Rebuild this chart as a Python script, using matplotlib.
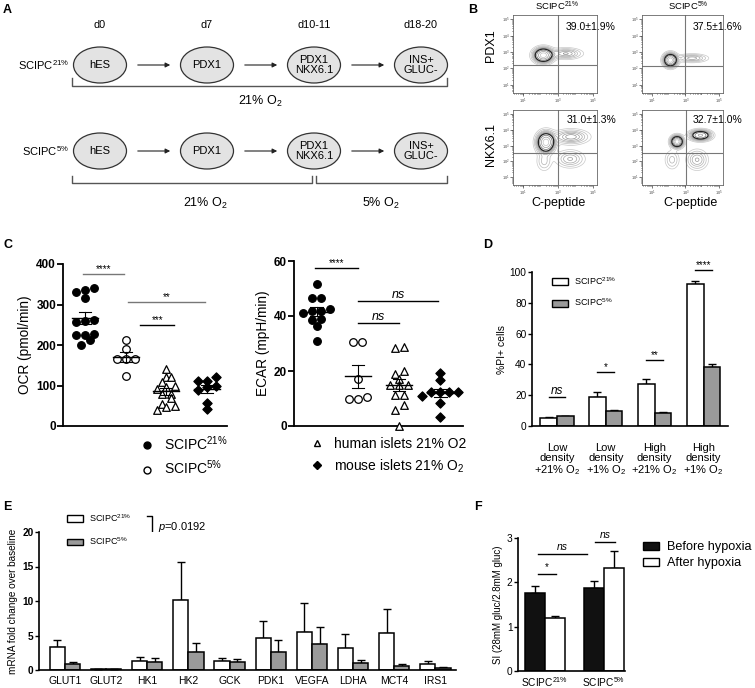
import matplotlib
matplotlib.use('Agg')
import matplotlib.pyplot as plt
import numpy as np
from matplotlib.patches import Ellipse, Patch
from matplotlib.lines import Line2D

plt.rcParams['font.family'] = ['Liberation Sans', 'DejaVu Sans']
plt.rcParams['mathtext.fontset'] = 'custom'
plt.rcParams['mathtext.rm'] = 'Liberation Sans'
plt.rcParams['mathtext.it'] = 'Liberation Sans:italic'
plt.rcParams['mathtext.bf'] = 'Liberation Sans:bold'

W, H = 755, 688

# ---------------- datos ----------------
# A - esquema de diferenciacion
etapas = ['hES', 'PDX1', 'PDX1\nNKX6.1', 'INS+\nGLUC-']
dias = ['d0', 'd7', 'd10-11', 'd18-20']

# B - citometria (porcentajes y manchas de densidad en log10: cx, cy, sx, sy, amp)
porc_b = ['39.0±1.9%', '37.5±1.6%', '31.0±1.3%', '32.7±1.0%']
manchas_b = [
    [(2.15, 2.8, 0.3, 0.24, 1.0), (3.45, 2.9, 0.5, 0.18, 0.25)],
    [(2.1, 2.5, 0.22, 0.22, 1.0), (3.4, 2.62, 0.5, 0.14, 0.22)],
    [(2.3, 3.2, 0.28, 0.35, 1.0), (3.75, 3.55, 0.55, 0.25, 0.28),
     (3.7, 2.15, 0.45, 0.3, 0.2), (2.2, 2.0, 0.25, 0.35, 0.12)],
    [(2.5, 3.25, 0.2, 0.2, 1.0), (3.9, 3.65, 0.35, 0.18, 0.7),
     (3.7, 2.1, 0.35, 0.35, 0.2), (2.2, 2.1, 0.25, 0.35, 0.12)],
]
cuadrante_b = [(3.0, 2.2), (3.0, 2.15), (3.0, 2.5), (3.05, 2.5)]

# C - OCR y ECAR
ocr_21 = [340, 335, 330, 315, 260, 258, 262, 225, 225, 228, 212, 200]
ocr_5 = [212, 190, 165, 165, 166, 123]
ocr_hum = [140, 122, 120, 108, 100, 97, 92, 80, 78, 68, 55, 50, 46, 40]
ocr_mou = [120, 112, 110, 100, 96, 90, 58, 42]
ecar_21 = [51.5, 46.5, 46.5, 42, 42, 42.5, 41, 38.5, 39, 36.5, 30.8]
ecar_5 = [30.7, 30.7, 17.2, 10.5, 9.7, 9.7]
ecar_hum = [28.9, 28.4, 20, 19, 17, 14.8, 14.8, 14.8, 11.2, 11.2, 7.5, 6, 0]
ecar_mou = [19.2, 16.8, 12.5, 12.5, 12.5, 12.5, 11, 8.3, 3.2]

# D - %PI+
cond_d = ['Low\ndensity\n+21% O$_2$', 'Low\ndensity\n+1% O$_2$',
          'High\ndensity\n+21% O$_2$', 'High\ndensity\n+1% O$_2$']
pi_21 = [5.2, 18.8, 27.5, 92.3]
pi_21_err = [0.4, 3.2, 3.2, 2.1]
pi_5 = [6.2, 10.0, 8.7, 38.0]
pi_5_err = [0.6, 0.5, 0.3, 2.3]
sig_d = ['ns', '*', '**', '****']
sig_d_y = [18.6, 35, 43, 101]

# E - mRNA
genes = ['GLUT1', 'GLUT2', 'HK1', 'HK2', 'GCK', 'PDK1', 'VEGFA', 'LDHA', 'MCT4', 'IRS1']
mrna_21 = [3.35, 0.1, 1.35, 10.1, 1.3, 4.6, 5.5, 3.15, 5.3, 0.8]
mrna_21_err = [1.0, 0.05, 0.5, 5.5, 0.4, 2.5, 4.2, 2.0, 3.6, 0.45]
mrna_5 = [0.82, 0.1, 1.2, 2.65, 1.2, 2.55, 3.8, 0.95, 0.6, 0.35]
mrna_5_err = [0.4, 0.05, 0.5, 1.25, 0.4, 1.75, 2.45, 0.55, 0.25, 0.15]

# F - indice de estimulacion
grupos_f = ['SCIPC$^{21\\%}$', 'SCIPC$^{5\\%}$']
si_antes = [1.77, 1.88]
si_antes_err = [0.14, 0.16]
si_despues = [1.2, 2.32]
si_despues_err = [0.03, 0.38]

fig = plt.figure(figsize=(W / 100, H / 100), dpi=100)


def ejes(x0, y0, x1, y1):
    return fig.add_axes([x0 / W, 1 - y1 / H, (x1 - x0) / W, (y1 - y0) / H])


def txt(x, y, s, **kw):
    fig.text(x / W, 1 - y / H, s, **kw)


# ---------------- A ----------------
axA = fig.add_axes([0, 0, 1, 1])
axA.set_xlim(0, W)
axA.set_ylim(H, 0)
axA.axis('off')
cx_a = [100, 207, 314, 421]
for fila_y in [65, 151]:
    for i, et in enumerate(etapas):
        axA.add_patch(Ellipse((cx_a[i], fila_y), 53, 36, facecolor='#e3e3e3',
                              edgecolor='#333333', lw=0.9))
        axA.text(cx_a[i], fila_y, et, ha='center', va='center', fontsize=8,
                 linespacing=1.1)
        if i < 3:
            axA.annotate('', xy=(cx_a[i + 1] - 34, fila_y), xytext=(cx_a[i] + 35, fila_y),
                         arrowprops=dict(arrowstyle='-|>', color='#222222', lw=0.8,
                                         mutation_scale=7))
for i, d in enumerate(dias):
    axA.text(cx_a[i], 25, d, ha='center', va='center', fontsize=7.8)
axA.text(69, 65, 'SCIPC$^{21\\%}$', ha='right', va='center', fontsize=8)
axA.text(69, 151, 'SCIPC$^{5\\%}$', ha='right', va='center', fontsize=8)
gris_b = '#555555'
axA.plot([72, 72, 447, 447], [78, 86, 86, 78], color=gris_b, lw=1)
axA.text(260, 101, '21% O$_2$', ha='center', va='center', fontsize=9)
axA.plot([72, 72, 312, 312], [176, 183, 183, 176], color=gris_b, lw=1)
axA.plot([316, 316, 447, 447], [176, 183, 183, 176], color=gris_b, lw=1)
axA.text(205, 203, '21% O$_2$', ha='center', va='center', fontsize=9)
axA.text(381, 203, '5% O$_2$', ha='center', va='center', fontsize=9)

# ---------------- B ----------------
cajas_b = [(513, 15, 597, 93), (642, 15, 723, 93), (513, 110, 597, 185), (642, 110, 723, 185)]
gx, gy = np.meshgrid(np.linspace(0.4, 5.25, 240), np.linspace(0.5, 5.25, 240))
niveles = [0.03, 0.06, 0.1, 0.14, 0.19, 0.24, 0.3, 0.45, 0.65, 0.85]
colores = ['#c8c8c8', '#bdbdbd', '#b2b2b2', '#a6a6a6', '#9a9a9a', '#8c8c8c',
           '#222222', '#6e6e6e', '#9a9a9a', '#c0c0c0']
for k, caja in enumerate(cajas_b):
    ax = ejes(*caja)
    dens = np.zeros_like(gx)
    for (mx, my, sx, sy, amp) in manchas_b[k]:
        dens += amp * np.exp(-0.5 * (((gx - mx) / sx) ** 2 + ((gy - my) / sy) ** 2))
    ax.contour(10 ** gx, 10 ** gy, dens, levels=niveles, colors=colores,
               linewidths=[0.5] * 6 + [0.9] + [0.5] * 3)
    ax.set_xscale('log')
    ax.set_yscale('log')
    ax.set_xlim(10 ** 0.4, 10 ** 5.25)
    ax.set_ylim(10 ** 0.5, 10 ** 5.25)
    qx, qy = cuadrante_b[k]
    ax.axvline(10 ** qx, color='#777777', lw=0.8)
    ax.axhline(10 ** qy, color='#777777', lw=0.8)
    ax.set_xticks([1e1, 1e3, 1e5])
    ax.set_xticklabels(['$10^1$', '$10^3$', '$10^5$'])
    ax.set_yticks([1e1, 1e2, 1e3, 1e4, 1e5])
    ax.set_yticklabels(['$10^1$', '$10^2$', '$10^3$', '$10^4$', '$10^5$'])
    ax.tick_params(labelsize=2.8, length=2, width=0.5, pad=0.5, colors='#444444')
    ax.tick_params(which='minor', length=1, width=0.4)
    for s in ax.spines.values():
        s.set_linewidth(0.6)
        s.set_color('#666666')
txt(557, 6, 'SCIPC$^{21\\%}$', ha='center', va='center', fontsize=6.8)
txt(688, 6, 'SCIPC$^{5\\%}$', ha='center', va='center', fontsize=6.8)
txt(566, 27, porc_b[0], ha='left', va='center', fontsize=7.5)
txt(693, 27, porc_b[1], ha='left', va='center', fontsize=7.5)
txt(567, 120, porc_b[2], ha='left', va='center', fontsize=7.5)
txt(693, 120, porc_b[3], ha='left', va='center', fontsize=7.5)
txt(491, 46, 'PDX1', ha='center', va='center', rotation=90, fontsize=9)
txt(491, 144, 'NKX6.1', ha='center', va='center', rotation=90, fontsize=9)
txt(558, 203, 'C-peptide', ha='center', va='center', fontsize=9)
txt(690, 203, 'C-peptide', ha='center', va='center', fontsize=9)


# ---------------- C ----------------
def enjambre(vals, ancho, paso):
    vals = np.asarray(vals, float)
    orden = np.argsort(vals)
    off = np.zeros(len(vals))
    grupos, actual = [], [orden[0]]
    for i in orden[1:]:
        if vals[i] - vals[actual[0]] < ancho:
            actual.append(i)
        else:
            grupos.append(actual)
            actual = [i]
    grupos.append(actual)
    for g in grupos:
        n = len(g)
        off[g] = (np.arange(n) - (n - 1) / 2) * paso
    return off


estilos_c = [dict(marker='o', facecolor='black', edgecolor='black'),
             dict(marker='o', facecolor='white', edgecolor='black'),
             dict(marker='^', facecolor='white', edgecolor='black'),
             dict(marker='D', facecolor='black', edgecolor='black')]


def dot_plot(ax, series, ancho):
    for i, vals in enumerate(series):
        off = enjambre(vals, ancho, 0.22)
        est = estilos_c[i]
        s = 22 if est['marker'] == 'D' else 30
        ax.scatter(i + off, vals, s=s, linewidths=0.9, zorder=3, clip_on=False, **est)
        m = np.mean(vals)
        sem = np.std(vals, ddof=1) / np.sqrt(len(vals))
        ax.plot([i - 0.32, i + 0.32], [m, m], color='black', lw=1, zorder=4)
        ax.plot([i, i], [m - sem, m + sem], color='black', lw=0.8, zorder=4)
        ax.plot([i - 0.15, i + 0.15], [m + sem, m + sem], color='black', lw=0.8, zorder=4)
        ax.plot([i - 0.15, i + 0.15], [m - sem, m - sem], color='black', lw=0.8, zorder=4)


def estilo_ejes(ax, lw=1.3):
    for s in ['top', 'right']:
        ax.spines[s].set_visible(False)
    for s in ['left', 'bottom']:
        ax.spines[s].set_linewidth(lw)


def barra_sig(ax, x0, x1, y, etiqueta, color='black', fs=7, italic=False, dy=0):
    ax.plot([x0, x1], [y, y], color=color, lw=1, clip_on=False)
    ax.text((x0 + x1) / 2, y + dy, etiqueta, ha='center', va='bottom', fontsize=fs,
            style='italic' if italic else 'normal')


axC1 = ejes(63, 264, 227, 426)
dot_plot(axC1, [ocr_21, ocr_5, ocr_hum, ocr_mou], 14)
axC1.set_xlim(-0.55, 3.5)
axC1.set_ylim(0, 400)
axC1.set_yticks([0, 100, 200, 300, 400])
axC1.set_xticks([])
estilo_ejes(axC1)
axC1.tick_params(axis='y', labelsize=8.5, length=4, width=1.3, pad=1)
for t in axC1.get_yticklabels():
    t.set_fontweight('bold')
axC1.set_ylabel('OCR (pmol/min)', fontsize=9.8, labelpad=3)
barra_sig(axC1, -0.05, 0.95, 376, '****', color='#777777', fs=7)
barra_sig(axC1, 1.05, 2.95, 305, '**', color='#777777', fs=7)
barra_sig(axC1, 1.35, 2.2, 250, '***', fs=7)

axC2 = ejes(294, 261, 463, 426)
dot_plot(axC2, [ecar_21, ecar_5, ecar_hum, ecar_mou], 1.8)
axC2.set_xlim(-0.55, 3.55)
axC2.set_ylim(0, 60)
axC2.set_yticks([0, 20, 40, 60])
axC2.set_xticks([])
estilo_ejes(axC2)
axC2.tick_params(axis='y', labelsize=8.5, length=4, width=1.3, pad=1)
for t in axC2.get_yticklabels():
    t.set_fontweight('bold')
axC2.set_ylabel('ECAR (mpH/min)', fontsize=9.8, labelpad=3)
barra_sig(axC2, -0.05, 1.0, 57.5, '****', fs=7)
barra_sig(axC2, 1.0, 2.95, 45.5, 'ns', fs=9, italic=True)
barra_sig(axC2, 1.0, 2.0, 37.5, 'ns', fs=9, italic=True)

h_c1 = [Line2D([], [], ls='', marker='o', color='black', ms=5),
        Line2D([], [], ls='', marker='o', mfc='white', mec='black', ms=5)]
fig.legend(h_c1, ['SCIPC$^{21\\%}$', 'SCIPC$^{5\\%}$'], loc='upper left',
           bbox_to_anchor=(140 / W, 1 - 434 / H), frameon=False, fontsize=10,
           handlelength=1, handletextpad=0.7, labelspacing=0.45, borderpad=0,
           borderaxespad=0)
h_c2 = [Line2D([], [], ls='', marker='^', mfc='white', mec='black', ms=5),
        Line2D([], [], ls='', marker='D', color='black', ms=4)]
fig.legend(h_c2, ['human islets 21% O2', 'mouse islets 21% O$_2$'], loc='upper left',
           bbox_to_anchor=(310 / W, 1 - 437 / H), frameon=False, fontsize=10,
           handlelength=1, handletextpad=0.7, labelspacing=0.45, borderpad=0,
           borderaxespad=0)

# ---------------- D ----------------
gris = '#9a9a9a'
axD = ejes(532, 272, 728, 426)
xd = np.arange(len(cond_d))
bw = 0.34
axD.bar(xd - bw / 2, pi_21, bw, color='white', edgecolor='black', lw=1.1, zorder=2)
axD.bar(xd + bw / 2, pi_5, bw, color=gris, edgecolor='black', lw=1.1, zorder=2)
axD.errorbar(xd - bw / 2, pi_21, yerr=[np.zeros(4), pi_21_err], fmt='none',
             ecolor='black', elinewidth=1, capsize=3, capthick=1, zorder=1)
axD.errorbar(xd + bw / 2, pi_5, yerr=[np.zeros(4), pi_5_err], fmt='none',
             ecolor='black', elinewidth=1, capsize=3, capthick=1, zorder=1)
for i in range(4):
    it = sig_d[i] == 'ns'
    barra_sig(axD, i - bw / 2, i + bw / 2, sig_d_y[i], sig_d[i], fs=8.5 if it else 7,
              italic=it)
axD.set_xlim(-0.51, 3.5)
axD.set_ylim(0, 100)
axD.set_yticks(range(0, 101, 20))
axD.set_xticks(xd)
axD.set_xticklabels(cond_d, fontsize=8, linespacing=1.05)
estilo_ejes(axD, 1.2)
axD.tick_params(axis='x', length=0, pad=12)
axD.tick_params(axis='y', labelsize=7.3, length=3, width=1, pad=1)
axD.set_ylabel('%PI+ cells', fontsize=7.5, labelpad=2)
h_d = [Patch(facecolor='white', edgecolor='black', lw=1),
       Patch(facecolor=gris, edgecolor='black', lw=1)]
axD.legend(h_d, ['SCIPC$^{21\\%}$', 'SCIPC$^{5\\%}$'], loc='upper left',
           bbox_to_anchor=((552 - 532) / 196, 1 - (275 - 272) / 154), frameon=False,
           fontsize=6.5, handlelength=1.8, handleheight=0.8, handletextpad=0.6,
           labelspacing=1.1, borderpad=0, borderaxespad=0)

# ---------------- E ----------------
axE = ejes(39, 532, 456, 670)
xe = np.arange(len(genes))
bwe = 0.37
axE.bar(xe - bwe / 2, mrna_21, bwe, color='white', edgecolor='black', lw=1.1, zorder=2)
axE.bar(xe + bwe / 2, mrna_5, bwe, color=gris, edgecolor='black', lw=1.1, zorder=2)
axE.errorbar(xe - bwe / 2, mrna_21, yerr=[np.zeros(10), mrna_21_err], fmt='none',
             ecolor='black', elinewidth=1, capsize=3, capthick=1, zorder=1)
axE.errorbar(xe + bwe / 2, mrna_5, yerr=[np.zeros(10), mrna_5_err], fmt='none',
             ecolor='black', elinewidth=1, capsize=3, capthick=1, zorder=1)
axE.set_xlim(-0.63, 9.5)
axE.set_ylim(0, 20)
axE.set_yticks([0, 5, 10, 15, 20])
axE.set_xticks(xe)
axE.set_xticklabels(genes, fontsize=7.5)
estilo_ejes(axE, 1.2)
axE.tick_params(axis='x', length=0, pad=4)
axE.tick_params(axis='y', labelsize=7.3, length=3, width=1, pad=1)
for t in axE.get_yticklabels():
    t.set_fontweight('bold')
axE.set_ylabel('mRNA fold change over baseline', fontsize=7.2, labelpad=3)
fig.legend(h_d, ['SCIPC$^{21\\%}$', 'SCIPC$^{5\\%}$'], loc='upper left',
           bbox_to_anchor=(67 / W, 1 - 512 / H), frameon=False,
           fontsize=6.5, handlelength=1.8, handleheight=0.8, handletextpad=0.6,
           labelspacing=1.3, borderpad=0, borderaxespad=0)
axA.plot([147, 152, 152, 147], [516, 516, 543, 543], color='black', lw=1)
txt(158, 527, '$p$=0.0192', ha='left', va='center', fontsize=8)

# ---------------- F ----------------
axF = ejes(518, 538, 625, 671)
xf = np.arange(len(grupos_f))
bwf = 0.34
axF.bar(xf - bwf / 2, si_antes, bwf, color='#111111', edgecolor='black', lw=1.1, zorder=2)
axF.bar(xf + bwf / 2, si_despues, bwf, color='white', edgecolor='black', lw=1.1, zorder=2)
axF.errorbar(xf - bwf / 2, si_antes, yerr=[np.zeros(2), si_antes_err], fmt='none',
             ecolor='black', elinewidth=1, capsize=3, capthick=1, zorder=1)
axF.errorbar(xf + bwf / 2, si_despues, yerr=[np.zeros(2), si_despues_err], fmt='none',
             ecolor='black', elinewidth=1, capsize=3, capthick=1, zorder=1)
axF.set_xlim(-0.45, 1.36)
axF.set_ylim(0, 3)
axF.set_yticks([0, 1, 2, 3])
axF.set_xticks(xf)
axF.set_xticklabels(grupos_f, fontsize=7.3)
estilo_ejes(axF, 1.2)
axF.tick_params(axis='x', length=0, pad=3)
axF.tick_params(axis='y', labelsize=7.3, length=3, width=1, pad=1)
axF.set_ylabel('SI (28mM gluc/2.8mM gluc)', fontsize=7, labelpad=3)
barra_sig(axF, -0.12, 0.2, 2.18, '*', fs=7, dy=0.05)
barra_sig(axF, -0.12, 0.71, 2.63, 'ns', fs=7.5, italic=True, dy=0.05)
barra_sig(axF, 0.86, 1.19, 2.9, 'ns', fs=7.5, italic=True, dy=0.05)
h_f = [Patch(facecolor='#111111', edgecolor='black', lw=1),
       Patch(facecolor='white', edgecolor='black', lw=1)]
fig.legend(h_f, ['Before hypoxia', 'After hypoxia'], loc='upper left',
           bbox_to_anchor=(643 / W, 1 - 541 / H), frameon=False,
           fontsize=9.1, handlelength=1.3, handleheight=0.6, handletextpad=0.6,
           labelspacing=0.35, borderpad=0, borderaxespad=0)

# ---------------- letras de panel ----------------
for letra, x, y in [('A', 3, 10), ('B', 468, 10), ('C', 3, 245), ('D', 483, 245),
                    ('E', 3, 507), ('F', 474, 507)]:
    txt(x, y, letra, ha='left', va='center', fontsize=9, fontweight='bold')

fig.savefig('out.png', dpi=100)
